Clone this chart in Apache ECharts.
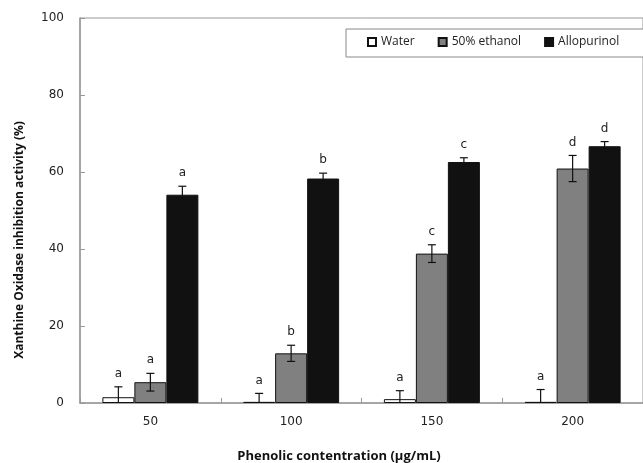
<!DOCTYPE html>
<html>
<head>
<meta charset="utf-8">
<script src="https://cdn.jsdelivr.net/npm/echarts@6/dist/echarts.min.js"></script>
<style>
  html, body { margin: 0; padding: 0; background: #fff; }
  #chart { width: 643px; height: 463px; }
</style>
</head>
<body>
<div id="chart"></div>
<script>
// Phenolic concentrations (µg/mL) on the x axis
const categories = ['50', '100', '150', '200'];

// Mean inhibition (%) per extract
const waterValues = [1.5, 0.3, 1.0, 0.3];
const ethanolValues = [5.4, 12.9, 38.8, 60.9];
const allopurinolValues = [54.1, 58.3, 62.6, 66.7];

// Standard deviations
const waterErrors = [2.7, 2.2, 2.2, 3.2];
const ethanolErrors = [2.3, 2.1, 2.3, 3.4];
const allopurinolErrors = [2.2, 1.4, 1.1, 1.2];

// Significance letters
const waterLetters = ['a', 'a', 'a', 'a'];
const ethanolLetters = ['a', 'b', 'c', 'd'];
const allopurinolLetters = ['a', 'b', 'c', 'd'];

const yTicks = [0, 20, 40, 60, 80, 100];

const BAR_W = 32;
const groups = [
  { name: 'Water', values: waterValues, errors: waterErrors, letters: waterLetters, color: '#ffffff', offset: -1 },
  { name: '50% ethanol', values: ethanolValues, errors: ethanolErrors, letters: ethanolLetters, color: '#808080', offset: 0 },
  { name: 'Allopurinol', values: allopurinolValues, errors: allopurinolErrors, letters: allopurinolLetters, color: '#111111', offset: 1 }
];

const chart = echarts.init(document.getElementById('chart'));

const barSeries = groups.map(g => ({
  name: g.name,
  type: 'bar',
  data: g.values,
  barWidth: BAR_W,
  barGap: '0%',
  itemStyle: { color: g.color, borderColor: '#111', borderWidth: 1 },
  emphasis: { disabled: true },
  z: 2
}));

// Error bars with caps plus the letter above each bar
const errorSeries = groups.map(g => ({
  name: g.name + ' error',
  type: 'custom',
  data: g.values.map((v, i) => [i, v, g.errors[i]]),
  encode: { x: 0, y: 1 },
  z: 5,
  silent: true,
  renderItem: function (params, api) {
    const idx = api.value(0);
    const v = api.value(1);
    const e = api.value(2);
    const letter = g.letters[idx];
    const hi = v + e;
    const lo = Math.max(0, v - e);
    const pHi = api.coord([idx, hi]);
    const pLo = api.coord([idx, lo]);
    const x = pHi[0] + g.offset * BAR_W;
    const cap = 4;
    const style = { stroke: '#111', lineWidth: 1.2 };
    const children = [
      { type: 'line', shape: { x1: x, y1: pHi[1], x2: x, y2: pLo[1] }, style: style },
      { type: 'line', shape: { x1: x - cap, y1: pHi[1], x2: x + cap, y2: pHi[1] }, style: style }
    ];
    if (lo > 0) {
      children.push({ type: 'line', shape: { x1: x - cap, y1: pLo[1], x2: x + cap, y2: pLo[1] }, style: style });
    }
    children.push({
      type: 'text',
      style: {
        x: x, y: pHi[1] - 13,
        text: letter,
        align: 'center', verticalAlign: 'middle',
        fontFamily: 'DejaVu Sans', fontSize: 12, fill: '#222'
      }
    });
    return { type: 'group', children: children };
  }
}));

chart.setOption({
  animation: false,
  backgroundColor: '#ffffff',
  grid: {
    left: 80, top: 18, width: 573, height: 385,
    show: true, borderColor: '#999', borderWidth: 1, backgroundColor: 'transparent'
  },
  legend: {
    data: groups.map(g => g.name),
    left: 367, top: 36,
    orient: 'horizontal',
    width: 300,
    padding: 0,
    icon: 'rect',
    itemWidth: 8, itemHeight: 8,
    itemGap: 23,
    selectedMode: false,
    z: 10,
    textStyle: { fontFamily: 'Open Sans', fontSize: 12, color: '#222' }
  },
  xAxis: {
    type: 'category',
    data: categories,
    boundaryGap: true,
    axisLine: { lineStyle: { color: '#999', width: 1.5 } },
    axisTick: { show: true, inside: true, length: 5, alignWithLabel: false, lineStyle: { color: '#999' } },
    axisLabel: { margin: 13, fontFamily: 'DejaVu Sans', fontSize: 12, color: '#222' },
    splitLine: { show: false }
  },
  yAxis: {
    type: 'value',
    min: yTicks[0], max: yTicks[yTicks.length - 1], interval: 20,
    axisLine: { show: true, lineStyle: { color: '#999', width: 1.5 } },
    axisTick: { show: true, inside: true, length: 5, lineStyle: { color: '#999' } },
    axisLabel: { margin: 16, fontFamily: 'DejaVu Sans', fontSize: 12, color: '#222' },
    splitLine: { show: false }
  },
  graphic: [
    {
      // legend frame, running off the right edge
      type: 'rect',
      z: 1,
      shape: { x: 346, y: 29, width: 320, height: 28 },
      style: { fill: '#fff', stroke: '#888', lineWidth: 1 }
    },
    {
      type: 'text',
      x: 20, y: 240,
      rotation: Math.PI / 2,
      style: {
        text: 'Xanthine Oxidase inhibition activity (%)',
        align: 'center', verticalAlign: 'middle',
        fontFamily: 'Open Sans', fontWeight: 'bold', fontSize: 12, fill: '#111'
      }
    },
    {
      type: 'text',
      x: 339, y: 456,
      style: {
        text: 'Phenolic contentration (μg/mL)',
        align: 'center', verticalAlign: 'middle',
        fontFamily: 'Open Sans', fontWeight: 'bold', fontSize: 13, fill: '#111'
      }
    }
  ],
  series: barSeries.concat(errorSeries)
});
</script>
</body>
</html>
